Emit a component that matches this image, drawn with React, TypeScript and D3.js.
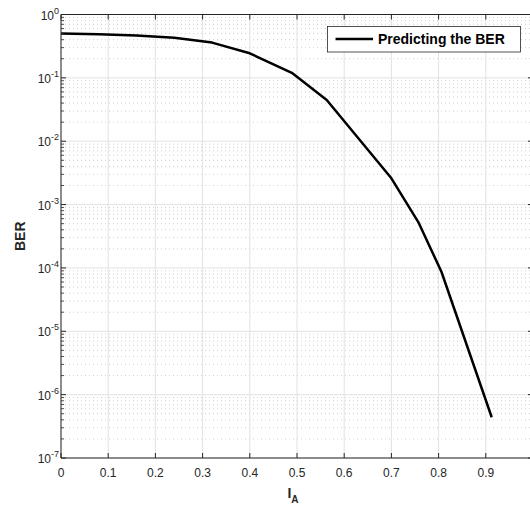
import React from "react";
import * as d3 from "d3";

const IA = [0, 0.08, 0.16, 0.24, 0.32, 0.40, 0.489, 0.563, 0.70, 0.757, 0.806, 0.9125];
const BER = [0.5, 0.49, 0.468, 0.43, 0.36, 0.244, 0.12, 0.0446, 0.0026, 5.3e-4, 8.7e-5, 4.4e-7];
const xTicks = [0, 0.1, 0.2, 0.3, 0.4, 0.5, 0.6, 0.7, 0.8, 0.9];
const yExps = [0, -1, -2, -3, -4, -5, -6, -7];
const legendLabel = "Predicting the BER";
const xLabel = "I";
const xLabelSub = "A";
const yLabel = "BER";

const W = 530, H = 509;
const L = 61, R = 533, T = 14.5, B = 458;
const axisColor = "#262626";
const font = "'Liberation Sans', Arial, Helvetica, sans-serif";

export default function App() {
  const x = d3.scaleLinear().domain([0, 1]).range([L, R]);
  const y = d3.scaleLog().domain([1e-7, 1]).range([B, T]);
  const minor: number[] = [];
  for (let e = -7; e < 0; e++) for (let k = 2; k <= 9; k++) minor.push(k * Math.pow(10, e));
  const line = d3.line<number>().x((_, i) => x(IA[i])).y((d) => y(d));
  return (
    <svg width={W} height={H} style={{ position: "absolute", left: 0, top: 0 }} fontFamily={font}>
      <rect x={0} y={0} width={W} height={H} fill="#fff" />
      {/* minor grid */}
      {minor.map((v, i) => (
        <line key={"mg" + i} x1={L} x2={R} y1={y(v)} y2={y(v)} stroke="#c4c4c4" strokeWidth={0.8} strokeDasharray="1 3" />
      ))}
      {/* major grid */}
      {yExps.map((e) => (
        <line key={"yg" + e} x1={L} x2={R} y1={y(Math.pow(10, e))} y2={y(Math.pow(10, e))} stroke="#e2e2e2" strokeWidth={1} />
      ))}
      {xTicks.map((t) => (
        <line key={"xg" + t} x1={x(t)} x2={x(t)} y1={T} y2={B} stroke="#e2e2e2" strokeWidth={1} />
      ))}
      {/* curve */}
      <path d={line(BER) || ""} fill="none" stroke="#000" strokeWidth={2.5} strokeLinejoin="round" />
      {/* axes */}
      <line x1={L} x2={R} y1={B} y2={B} stroke={axisColor} strokeWidth={1} />
      <line x1={L} x2={R} y1={T} y2={T} stroke={axisColor} strokeWidth={1} />
      <line x1={L} x2={L} y1={T} y2={B} stroke={axisColor} strokeWidth={1} />
      <line x1={R} x2={R} y1={T} y2={B} stroke={axisColor} strokeWidth={1} />
      {xTicks.map((t) => (
        <g key={"xt" + t}>
          <line x1={x(t)} x2={x(t)} y1={B} y2={B - 5} stroke={axisColor} />
          <line x1={x(t)} x2={x(t)} y1={T} y2={T + 5} stroke={axisColor} />
          <text x={x(t)} y={B + 19} textAnchor="middle" fontSize={12} fill={axisColor}>{String(t)}</text>
        </g>
      ))}
      {yExps.map((e) => (
        <g key={"yt" + e}>
          <line x1={L} x2={L + 5} y1={y(Math.pow(10, e))} y2={y(Math.pow(10, e))} stroke={axisColor} />
          <line x1={R} x2={R - 5} y1={y(Math.pow(10, e))} y2={y(Math.pow(10, e))} stroke={axisColor} />
          <text x={L - 2} y={y(Math.pow(10, e)) + 5} textAnchor="end" fontSize={12} fill={axisColor}>
            10<tspan dy={-6} fontSize={9}>{String(e)}</tspan>
          </text>
        </g>
      ))}
      {minor.map((v, i) => (
        <g key={"mt" + i}>
          <line x1={L} x2={L + 3} y1={y(v)} y2={y(v)} stroke={axisColor} strokeWidth={0.8} />
          <line x1={R} x2={R - 3} y1={y(v)} y2={y(v)} stroke={axisColor} strokeWidth={0.8} />
        </g>
      ))}
      {/* axis labels */}
      <text x={x(0.5) - 4} y={B + 40} textAnchor="middle" fontSize={14} fontWeight="bold" fill={axisColor}>
        {xLabel}<tspan dy={5} fontSize={10}>{xLabelSub}</tspan>
      </text>
      <text transform={`translate(25,${(T + B) / 2}) rotate(-90)`} textAnchor="middle" fontSize={14} fontWeight="bold" fill={axisColor}>{yLabel}</text>
      {/* legend */}
      <rect x={327.5} y={26.5} width={193} height={25.5} fill="#fff" stroke={axisColor} strokeWidth={0.8} />
      <line x1={335.5} x2={373} y1={39} y2={39} stroke="#000" strokeWidth={2.5} />
      <text x={378} y={44} fontSize={14} fontWeight="bold" fill="#000">{legendLabel}</text>
    </svg>
  );
}
